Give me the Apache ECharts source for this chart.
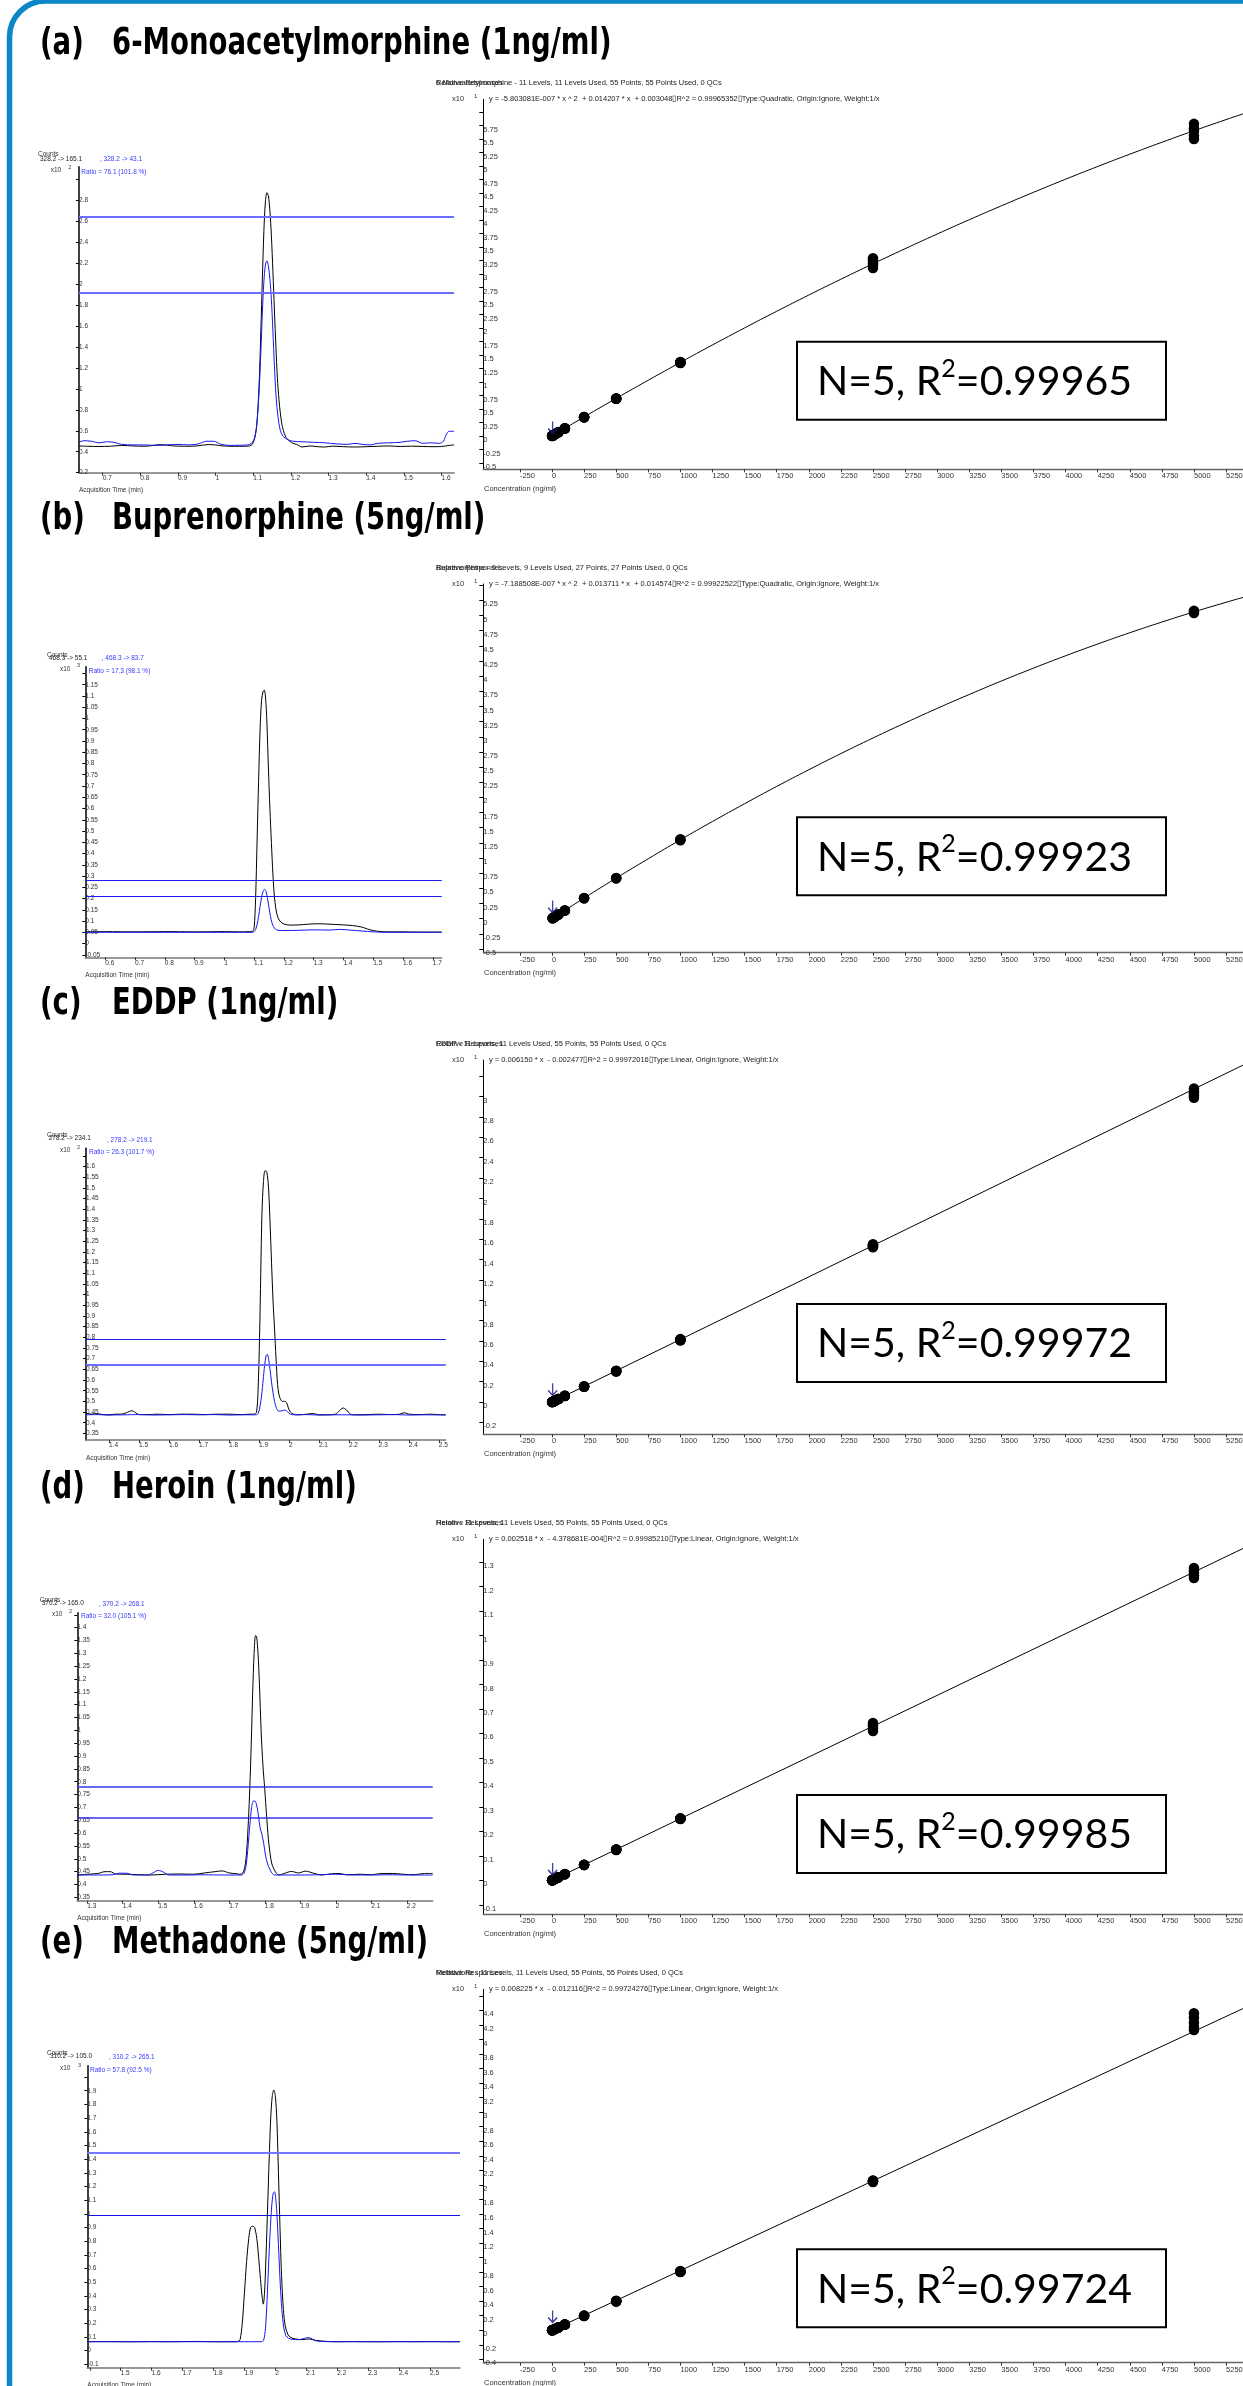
<!DOCTYPE html>
<html><head><meta charset="utf-8">
<script src="https://cdn.jsdelivr.net/npm/echarts@6/dist/echarts.min.js"></script>
<style>html,body{margin:0;padding:0;background:#fff}#c{width:1243px;height:2386px}</style>
</head><body><div id="c"></div>
<script>
// ================= DATA =================
// ---- Chromatogram (a) 6-Monoacetylmorphine
const chromA_black = [[0.637,0.455],[0.66,0.452],[0.69,0.45],[0.72,0.452],[0.75,0.46],[0.78,0.455],[0.81,0.452],[0.83,0.458],[0.85,0.468],[0.87,0.462],[0.89,0.455],[0.92,0.452],[0.95,0.455],[0.98,0.468],[1.00,0.465],[1.02,0.455],[1.05,0.452],[1.075,0.452],[1.09,0.455],
[1.097,0.47],[1.103,0.52],[1.108,0.62],[1.112,0.80],[1.116,1.10],[1.120,1.55],[1.124,2.05],[1.128,2.50],[1.132,2.78],[1.136,2.87],[1.140,2.84],[1.144,2.70],[1.148,2.46],[1.152,2.12],[1.156,1.75],[1.160,1.40],[1.164,1.10],[1.168,0.90],[1.172,0.76],[1.176,0.66],[1.180,0.60],[1.185,0.55],[1.190,0.52],[1.197,0.50],[1.205,0.48],[1.215,0.47],
[1.23,0.445],[1.25,0.455],[1.27,0.448],[1.29,0.445],[1.31,0.453],[1.34,0.448],[1.37,0.445],[1.40,0.448],[1.43,0.452],[1.46,0.455],[1.49,0.45],[1.52,0.453],[1.55,0.45],[1.58,0.448],[1.60,0.45],[1.62,0.46],[1.633,0.465]];
const chromA_blue = [[0.637,0.49],[0.65,0.505],[0.67,0.50],[0.69,0.485],[0.71,0.495],[0.73,0.49],[0.75,0.47],[0.78,0.465],[0.81,0.465],[0.84,0.46],[0.87,0.465],[0.90,0.47],[0.93,0.465],[0.955,0.475],[0.975,0.50],[0.995,0.50],[1.015,0.47],[1.04,0.46],[1.065,0.462],[1.085,0.465],
[1.095,0.48],[1.103,0.53],[1.108,0.62],[1.112,0.78],[1.116,1.02],[1.120,1.35],[1.124,1.72],[1.128,2.02],[1.132,2.18],[1.136,2.22],[1.140,2.17],[1.144,2.05],[1.148,1.85],[1.152,1.55],[1.156,1.22],[1.160,0.95],[1.164,0.78],[1.168,0.67],[1.172,0.60],[1.178,0.55],[1.185,0.53],[1.195,0.51],[1.205,0.50],
[1.23,0.495],[1.26,0.49],[1.29,0.485],[1.32,0.475],[1.35,0.47],[1.37,0.48],[1.39,0.47],[1.41,0.465],[1.43,0.48],[1.46,0.485],[1.49,0.49],[1.51,0.50],[1.53,0.505],[1.55,0.48],[1.57,0.485],[1.595,0.48],[1.605,0.50],[1.612,0.56],[1.62,0.595],[1.633,0.595]];
const chromA_limits = [2.644, 1.919];
const chromA_xTicks = [0.7,0.8,0.9,1.0,1.1,1.2,1.3,1.4,1.5,1.6];
const chromA_xLabels = [0.7,0.8,0.9,1.0,1.1,1.2,1.3,1.4,1.5,1.6];
const chromA_yTicks = [0.2,0.4,0.6,0.8,1.0,1.2,1.4,1.6,1.8,2.0,2.2,2.4,2.6,2.8,3.0];
const chromA_yLabels = [0.2,0.4,0.6,0.8,1.0,1.2,1.4,1.6,1.8,2.0,2.2,2.4,2.6,2.8];

// ---- Chromatogram (b) Buprenorphine
const chromB_black = [[0.533,0.052],[0.6,0.053],[0.7,0.052],[0.8,0.053],[0.9,0.052],[1.0,0.053],[1.05,0.052],[1.085,0.053],[1.095,0.055],
[1.100,0.07],[1.105,0.20],[1.110,0.46],[1.115,0.72],[1.120,0.95],[1.125,1.08],[1.130,1.12],[1.134,1.126],[1.138,1.10],[1.143,0.98],[1.148,0.78],[1.153,0.60],[1.158,0.45],[1.163,0.31],[1.168,0.21],[1.173,0.155],[1.180,0.115],[1.190,0.095],[1.200,0.087],
[1.22,0.082],[1.25,0.083],[1.28,0.086],[1.31,0.088],[1.34,0.087],[1.37,0.085],[1.40,0.083],[1.43,0.080],[1.46,0.074],[1.48,0.065],[1.50,0.058],[1.52,0.054],[1.55,0.052],[1.60,0.052],[1.65,0.051],[1.73,0.051]];
const chromB_blue = [[0.533,0.050],[0.7,0.050],[0.9,0.050],[1.05,0.050],[1.095,0.050],
[1.100,0.053],[1.105,0.062],[1.110,0.085],[1.115,0.120],[1.120,0.165],[1.125,0.205],[1.130,0.232],[1.135,0.241],[1.140,0.232],[1.145,0.200],[1.150,0.160],[1.155,0.120],[1.160,0.092],[1.165,0.075],[1.172,0.064],[1.180,0.059],
[1.20,0.058],[1.25,0.059],[1.30,0.061],[1.35,0.060],[1.39,0.063],[1.42,0.060],[1.46,0.056],[1.50,0.052],[1.55,0.050],[1.73,0.050]];
const chromB_limits = [0.279, 0.206];
const chromB_xTicks = [0.6,0.7,0.8,0.9,1.0,1.1,1.2,1.3,1.4,1.5,1.6,1.7];
const chromB_xLabels = [0.6,0.7,0.8,0.9,1.0,1.1,1.2,1.3,1.4,1.5,1.6,1.7];
const chromB_yTicks = [-0.05,0,0.05,0.1,0.15,0.2,0.25,0.3,0.35,0.4,0.45,0.5,0.55,0.6,0.65,0.7,0.75,0.8,0.85,0.9,0.95,1.0,1.05,1.1,1.15,1.2];
const chromB_yLabels = [-0.05,0,0.05,0.1,0.15,0.2,0.25,0.3,0.35,0.4,0.45,0.5,0.55,0.6,0.65,0.7,0.75,0.8,0.85,0.9,0.95,1.0,1.05,1.1,1.15];

// ---- Chromatogram (c) EDDP
const chromC_black = [[1.323,0.445],[1.34,0.44],[1.36,0.442],[1.38,0.438],[1.40,0.437],[1.42,0.44],[1.44,0.44],[1.455,0.445],[1.468,0.453],[1.477,0.456],[1.487,0.448],[1.50,0.438],[1.53,0.438],[1.56,0.44],[1.60,0.438],[1.64,0.44],[1.68,0.44],[1.72,0.438],[1.76,0.44],[1.80,0.44],[1.84,0.438],[1.87,0.44],[1.885,0.44],
[1.892,0.45],[1.897,0.55],[1.902,0.80],[1.906,1.10],[1.910,1.38],[1.915,1.53],[1.920,1.58],[1.924,1.58],[1.928,1.56],[1.932,1.50],[1.937,1.34],[1.942,1.15],[1.947,0.97],[1.952,0.84],[1.957,0.70],[1.962,0.58],[1.967,0.53],[1.972,0.51],[1.978,0.50],[1.985,0.50],[1.992,0.495],[1.998,0.47],[2.005,0.45],[2.015,0.44],
[2.03,0.437],[2.06,0.44],[2.08,0.443],[2.10,0.437],[2.13,0.437],[2.155,0.44],[2.168,0.455],[2.18,0.469],[2.192,0.46],[2.205,0.44],[2.22,0.437],[2.26,0.438],[2.30,0.44],[2.34,0.438],[2.37,0.44],[2.385,0.447],[2.40,0.44],[2.44,0.438],[2.47,0.44],[2.50,0.438],[2.523,0.437]];
const chromC_blue = [[1.323,0.437],[1.36,0.438],[1.40,0.436],[1.45,0.437],[1.50,0.438],[1.55,0.436],[1.60,0.437],[1.65,0.438],[1.70,0.437],[1.75,0.438],[1.80,0.436],[1.85,0.437],[1.89,0.437],
[1.898,0.445],[1.904,0.48],[1.909,0.53],[1.914,0.60],[1.919,0.67],[1.924,0.715],[1.928,0.72],[1.932,0.70],[1.937,0.65],[1.942,0.59],[1.947,0.54],[1.952,0.50],[1.958,0.47],[1.965,0.455],[1.975,0.455],[1.985,0.46],[1.995,0.452],[2.005,0.44],[2.02,0.437],
[2.06,0.438],[2.10,0.436],[2.15,0.437],[2.20,0.437],[2.25,0.436],[2.30,0.437],[2.35,0.438],[2.40,0.436],[2.45,0.437],[2.523,0.436]];
const chromC_limits = [0.792, 0.672];
const chromC_xTicks = [1.4,1.5,1.6,1.7,1.8,1.9,2.0,2.1,2.2,2.3,2.4,2.5];
const chromC_xLabels = [1.4,1.5,1.6,1.7,1.8,1.9,2.0,2.1,2.2,2.3,2.4,2.5];
const chromC_yTicks = [0.35,0.4,0.45,0.5,0.55,0.6,0.65,0.7,0.75,0.8,0.85,0.9,0.95,1.0,1.05,1.1,1.15,1.2,1.25,1.3,1.35,1.4,1.45,1.5,1.55,1.6,1.65];
const chromC_yLabels = [0.35,0.4,0.45,0.5,0.55,0.6,0.65,0.7,0.75,0.8,0.85,0.9,0.95,1.0,1.05,1.1,1.15,1.2,1.25,1.3,1.35,1.4,1.45,1.5,1.55,1.6];

// ---- Chromatogram (d) Heroin
const chromD_black = [[1.272,0.437],[1.30,0.44],[1.33,0.443],[1.35,0.45],[1.365,0.45],[1.38,0.441],[1.41,0.44],[1.45,0.438],[1.48,0.437],[1.52,0.44],[1.56,0.441],[1.60,0.44],[1.63,0.445],[1.66,0.45],[1.68,0.453],[1.70,0.445],[1.72,0.442],
[1.730,0.44],[1.738,0.445],[1.744,0.47],[1.749,0.53],[1.754,0.65],[1.758,0.78],[1.762,0.95],[1.766,1.15],[1.770,1.30],[1.774,1.369],[1.777,1.365],[1.781,1.30],[1.785,1.18],[1.790,0.99],[1.795,0.86],[1.800,0.77],[1.805,0.67],[1.810,0.58],[1.815,0.52],[1.820,0.48],[1.826,0.46],[1.832,0.445],[1.840,0.437],
[1.855,0.443],[1.875,0.451],[1.895,0.445],[1.915,0.452],[1.935,0.445],[1.96,0.437],[1.99,0.442],[2.01,0.443],[2.03,0.438],[2.07,0.44],[2.10,0.438],[2.13,0.443],[2.16,0.443],[2.19,0.44],[2.22,0.438],[2.25,0.443],[2.273,0.443]];
const chromD_blue = [[1.272,0.437],[1.32,0.437],[1.37,0.438],[1.39,0.444],[1.41,0.444],[1.43,0.437],[1.47,0.437],[1.485,0.445],[1.50,0.455],[1.515,0.448],[1.53,0.437],[1.58,0.437],[1.63,0.438],[1.68,0.437],[1.72,0.437],
[1.735,0.437],[1.742,0.445],[1.748,0.48],[1.753,0.55],[1.758,0.63],[1.763,0.70],[1.768,0.725],[1.772,0.725],[1.777,0.71],[1.782,0.67],[1.787,0.62],[1.792,0.595],[1.797,0.56],[1.802,0.515],[1.808,0.48],[1.814,0.46],[1.820,0.445],[1.828,0.437],
[1.85,0.437],[1.90,0.437],[1.95,0.438],[2.0,0.44],[2.05,0.437],[2.10,0.437],[2.15,0.438],[2.20,0.437],[2.273,0.437]];
const chromD_limits = [0.776, 0.663];
const chromD_xTicks = [1.3,1.4,1.5,1.6,1.7,1.8,1.9,2.0,2.1,2.2];
const chromD_xLabels = [1.3,1.4,1.5,1.6,1.7,1.8,1.9,2.0,2.1,2.2];
const chromD_yTicks = [0.35,0.4,0.45,0.5,0.55,0.6,0.65,0.7,0.75,0.8,0.85,0.9,0.95,1.0,1.05,1.1,1.15,1.2,1.25,1.3,1.35,1.4,1.45];
const chromD_yLabels = [0.35,0.4,0.45,0.5,0.55,0.6,0.65,0.7,0.75,0.8,0.85,0.9,0.95,1.0,1.05,1.1,1.15,1.2,1.25,1.3,1.35,1.4];

// ---- Chromatogram (e) Methadone
const chromE_black = [[1.392,0.065],[1.45,0.066],[1.50,0.065],[1.55,0.065],[1.60,0.066],[1.65,0.065],[1.70,0.066],[1.75,0.067],[1.80,0.065],[1.84,0.065],
[1.870,0.065],[1.880,0.068],[1.886,0.08],[1.893,0.20],[1.900,0.42],[1.907,0.65],[1.914,0.82],[1.920,0.90],[1.927,0.91],[1.933,0.90],[1.940,0.82],[1.946,0.68],[1.952,0.52],[1.957,0.40],[1.961,0.34],[1.965,0.42],[1.970,0.70],[1.975,1.05],[1.980,1.40],[1.985,1.70],[1.990,1.86],[1.995,1.905],[2.000,1.86],[2.005,1.68],[2.010,1.30],[2.015,0.90],[2.020,0.55],[2.026,0.30],[2.032,0.18],[2.040,0.12],[2.050,0.095],[2.065,0.085],[2.085,0.08],[2.11,0.085],[2.13,0.075],[2.16,0.068],[2.20,0.065],
[2.25,0.066],[2.30,0.065],[2.35,0.065],[2.40,0.066],[2.45,0.065],[2.50,0.066],[2.55,0.065],[2.597,0.065]];
const chromE_blue = [[1.392,0.065],[1.50,0.065],[1.60,0.065],[1.70,0.065],[1.80,0.065],[1.90,0.065],[1.955,0.065],
[1.962,0.075],[1.968,0.16],[1.973,0.36],[1.978,0.62],[1.983,0.86],[1.988,1.05],[1.993,1.15],[1.997,1.162],[2.001,1.12],[2.006,0.96],[2.011,0.72],[2.016,0.48],[2.021,0.30],[2.027,0.17],[2.034,0.11],[2.043,0.09],[2.055,0.082],[2.075,0.08],[2.095,0.09],[2.105,0.095],[2.115,0.09],[2.13,0.072],[2.16,0.066],[2.20,0.065],
[2.25,0.065],[2.35,0.065],[2.45,0.065],[2.597,0.065]];
const chromE_limits = [1.447, 0.989];
const chromE_xTicks = [1.4,1.5,1.6,1.7,1.8,1.9,2.0,2.1,2.2,2.3,2.4,2.5];
const chromE_xLabels = [1.5,1.6,1.7,1.8,1.9,2.0,2.1,2.2,2.3,2.4,2.5];
const chromE_yTicks = [-0.1,0,0.1,0.2,0.3,0.4,0.5,0.6,0.7,0.8,0.9,1.0,1.1,1.2,1.3,1.4,1.5,1.6,1.7,1.8,1.9,2.0];
const chromE_yLabels = [-0.1,0,0.1,0.2,0.3,0.4,0.5,0.6,0.7,0.8,0.9,1.0,1.1,1.2,1.3,1.4,1.5,1.6,1.7,1.8,1.9];

// ---- Calibration curves (response x10^1 vs concentration ng/ml)
const calXTicks = [-250,0,250,500,750,1000,1250,1500,1750,2000,2250,2500,2750,3000,3250,3500,3750,4000,4250,4500,4750,5000,5250];
const calLevels11 = [1,5,10,25,50,100,250,500,1000,2500,5000];
const calLevels9 = [5,10,25,50,100,250,500,1000,5000];

const calA_resp = [[0.001,0.002,0.002,0.001,0.002],[0.007,0.008,0.007,0.008,0.007],[0.014,0.015,0.014,0.015,0.014],[0.036,0.035,0.036,0.037,0.035],[0.071,0.070,0.072,0.071,0.070],[0.140,0.142,0.138,0.141,0.140],[0.345,0.350,0.348,0.344,0.350],[0.690,0.695,0.688,0.692,0.696],[1.350,1.360,1.370,1.355,1.365],[3.11,3.16,3.20,3.25,3.29],[5.50,5.56,5.65,5.70,5.78]];
const calA_curve = [[1,0.0015],[250,0.352],[500,0.696],[750,1.033],[1000,1.363],[1250,1.686],[1500,2.001],[1750,2.309],[2000,2.610],[2250,2.903],[2500,3.189],[2750,3.468],[3000,3.740],[3250,4.005],[3500,4.262],[3750,4.512],[4000,4.755],[4250,4.990],[4500,5.218],[4750,5.439],[5000,5.653],[5250,5.859],[5400,5.98]];
const calA_yTicks = [-0.5,-0.25,0,0.25,0.5,0.75,1,1.25,1.5,1.75,2,2.25,2.5,2.75,3,3.25,3.5,3.75,4,4.25,4.5,4.75,5,5.25,5.5,5.75,6];
const calA_yLabels = [-0.5,-0.25,0,0.25,0.5,0.75,1,1.25,1.5,1.75,2,2.25,2.5,2.75,3,3.25,3.5,3.75,4,4.25,4.5,4.75,5,5.25,5.5,5.75];
const calA_arrow = [5, 0.157];

const calB_resp = [[0.008,0.008,0.009],[0.015,0.016,0.015],[0.035,0.036,0.035],[0.070,0.069,0.071],[0.135,0.137,0.136],[0.335,0.340,0.338],[0.665,0.670,0.668],[1.295,1.300,1.310],[5.04,5.06,5.08]];
const calB_curve = [[1,0.0028],[250,0.340],[500,0.669],[750,0.989],[1000,1.301],[1250,1.603],[1500,1.896],[1750,2.181],[2000,2.456],[2250,2.723],[2500,2.980],[2750,3.228],[3000,3.468],[3250,3.698],[3500,3.920],[3750,4.132],[4000,4.336],[4250,4.530],[4500,4.716],[4750,4.892],[5000,5.060],[5250,5.218],[5400,5.31]];
const calB_yTicks = [-0.5,-0.25,0,0.25,0.5,0.75,1,1.25,1.5,1.75,2,2.25,2.5,2.75,3,3.25,3.5,3.75,4,4.25,4.5,4.75,5,5.25,5.5];
const calB_yLabels = [-0.5,-0.25,0,0.25,0.5,0.75,1,1.25,1.5,1.75,2,2.25,2.5,2.75,3,3.25,3.5,3.75,4,4.25,4.5,4.75,5,5.25];
const calB_arrow = [5, 0.20];

const calC_resp = [[0.0005,0.0005,0.0006,0.0005,0.0004],[0.003,0.003,0.0032,0.003,0.0029],[0.006,0.0062,0.006,0.0061,0.006],[0.015,0.0152,0.0151,0.015,0.0153],[0.030,0.031,0.030,0.0305,0.030],[0.060,0.061,0.062,0.061,0.060],[0.150,0.152,0.154,0.153,0.151],[0.300,0.305,0.307,0.303,0.306],[0.605,0.610,0.612,0.615,0.618],[1.52,1.53,1.54,1.545,1.55],[2.99,3.01,3.03,3.05,3.08]];
const calC_curve = [[1,0.0004],[2500,1.537],[5400,3.321]];
const calC_yTicks = [-0.2,0,0.2,0.4,0.6,0.8,1,1.2,1.4,1.6,1.8,2,2.2,2.4,2.6,2.8,3,3.2];
const calC_yLabels = [-0.2,0,0.2,0.4,0.6,0.8,1,1.2,1.4,1.6,1.8,2,2.2,2.4,2.6,2.8,3];
const calC_arrow = [5, 0.125];

const calD_resp = [[0.0002,0.0002,0.0003,0.0002,0.0002],[0.0012,0.0013,0.0012,0.0013,0.0012],[0.0025,0.0024,0.0025,0.0026,0.0025],[0.0063,0.0062,0.0064,0.0063,0.0062],[0.0125,0.0126,0.0124,0.0125,0.0127],[0.025,0.0252,0.0249,0.0251,0.025],[0.062,0.063,0.0625,0.063,0.0628],[0.125,0.126,0.1255,0.124,0.126],[0.250,0.251,0.252,0.252,0.253],[0.61,0.62,0.63,0.635,0.643],[1.235,1.245,1.255,1.265,1.276]];
const calD_curve = [[1,0.0002],[2500,0.6295],[5400,1.36]];
const calD_yTicks = [-0.1,0,0.1,0.2,0.3,0.4,0.5,0.6,0.7,0.8,0.9,1,1.1,1.2,1.3];
const calD_yLabels = [-0.1,0,0.1,0.2,0.3,0.4,0.5,0.6,0.7,0.8,0.9,1,1.1,1.2,1.3];
const calD_arrow = [5, 0.046];

const calE_resp = [[0.0,0.0005,0.0,0.0008,0.0003],[0.003,0.0035,0.003,0.004,0.003],[0.007,0.0075,0.007,0.008,0.007],[0.019,0.020,0.019,0.018,0.020],[0.040,0.039,0.041,0.040,0.039],[0.078,0.080,0.079,0.081,0.080],[0.195,0.200,0.198,0.202,0.199],[0.395,0.400,0.398,0.402,0.405],[0.800,0.805,0.810,0.815,0.808],[2.040,2.050,2.050,2.060,2.055],[4.13,4.17,4.23,4.30,4.36]];
const calE_curve = [[1,-0.0004],[2500,2.055],[5400,4.440]];
const calE_yTicks = [-0.4,-0.2,0,0.2,0.4,0.6,0.8,1,1.2,1.4,1.6,1.8,2,2.2,2.4,2.6,2.8,3,3.2,3.4,3.6,3.8,4,4.2,4.4,4.6];
const calE_yLabels = [-0.4,-0.2,0,0.2,0.4,0.6,0.8,1,1.2,1.4,1.6,1.8,2,2.2,2.4,2.6,2.8,3,3.2,3.4,3.6,3.8,4,4.2,4.4];
const calE_arrow = [5, 0.19];

// ---- Texts
const panelTags = ['(a)','(b)','(c)','(d)','(e)'];
const panelNames = ['6-Monoacetylmorphine (1ng/ml)','Buprenorphine (5ng/ml)','EDDP (1ng/ml)','Heroin (1ng/ml)','Methadone (5ng/ml)'];
const mzQuant = ['328.2 -> 165.1','468.3 -> 55.1','278.2 -> 234.1','370.2 -> 165.0','310.2 -> 105.0'];
const mzQual = [', 328.2 -> 43.1',', 468.3 -> 83.7',', 278.2 -> 219.1',', 370.2 -> 268.1',', 310.2 -> 265.1'];
const ratioTexts = ['Ratio = 76.1 (101.8 %)','Ratio = 17.3 (98.1 %)','Ratio = 26.3 (101.7 %)','Ratio = 32.0 (105.1 %)','Ratio = 57.8 (92.5 %)'];
const countExp = ['2','3','2','2','3'];
const calHeads = ['6-Monoacetylmorphine - 11 Levels, 11 Levels Used, 55 Points, 55 Points Used, 0 QCs',
 'Buprenorphine - 9 Levels, 9 Levels Used, 27 Points, 27 Points Used, 0 QCs',
 'EDDP - 11 Levels, 11 Levels Used, 55 Points, 55 Points Used, 0 QCs',
 'Heroin - 11 Levels, 11 Levels Used, 55 Points, 55 Points Used, 0 QCs',
 'Methadone - 11 Levels, 11 Levels Used, 55 Points, 55 Points Used, 0 QCs'];
const calEq = ['y = -5.803081E-007 * x ^ 2  + 0.014207 * x  + 0.003048\u25AFR^2 = 0.99965352\u25AFType:Quadratic, Origin:Ignore, Weight:1/x',
 'y = -7.188508E-007 * x ^ 2  + 0.013711 * x  + 0.014574\u25AFR^2 = 0.99922522\u25AFType:Quadratic, Origin:Ignore, Weight:1/x',
 'y = 0.006150 * x  - 0.002477\u25AFR^2 = 0.99972016\u25AFType:Linear, Origin:Ignore, Weight:1/x',
 'y = 0.002518 * x  - 4.378681E-004\u25AFR^2 = 0.99985210\u25AFType:Linear, Origin:Ignore, Weight:1/x',
 'y = 0.008225 * x  - 0.012116\u25AFR^2 = 0.99724276\u25AFType:Linear, Origin:Ignore, Weight:1/x'];
const r2Values = ['0.99965','0.99923','0.99972','0.99985','0.99724'];

// ================= LAYOUT =================
const SANS = '"Liberation Sans", Arial, sans-serif';
const LAB = '#333';
const BLUE = '#1515f5';
const fmt = v => String(parseFloat((+v).toFixed(3)));

const chromPanels = [
 {black:chromA_black, blue:chromA_blue, limits:chromA_limits, lim:[['#6d6dff',2],['#6d6dff',2]], xT:chromA_xTicks, xL:chromA_xLabels, yT:chromA_yTicks, yL:chromA_yLabels,
  g:{left:79, top:166.7, width:375, height:306}, x:[0.637,1.633], y:[0.2,3.118],
  hd:{counts:[38,154.3], mz:[40,159], mz2:[100,159.3], x10:[50.7,170.7], exp:[68.3,167.5], ratio:[81.3,172.7]}},
 {black:chromB_black, blue:chromB_blue, limits:chromB_limits, lim:[['#1c1ce8',1.2],['#1c1ce8',1.2]], xT:chromB_xTicks, xL:chromB_xLabels, yT:chromB_yTicks, yL:chromB_yLabels,
  g:{left:85.3, top:666.7, width:356.4, height:290.6}, x:[0.533,1.73], y:[-0.061,1.23],
  hd:{counts:[47,655.5], mz:[49,658.7], mz2:[101.7,658.7], x10:[60,669.3], exp:[77,665.5], ratio:[88.7,671.7]}},
 {black:chromC_black, blue:chromC_blue, limits:chromC_limits, lim:[['#1c1ce8',1.2],['#6d6dff',2]], xT:chromC_xTicks, xL:chromC_xLabels, yT:chromC_yTicks, yL:chromC_yLabels,
  g:{left:86, top:1148.3, width:359.7, height:291.7}, x:[1.323,2.523], y:[0.319,1.686],
  hd:{counts:[47,1135.5], mz:[48.7,1138.3], mz2:[107,1140.7], x10:[60,1150.7], exp:[77,1147.5], ratio:[89,1152.7]}},
 {black:chromD_black, blue:chromD_blue, limits:chromD_limits, lim:[['#3434f0',1.5],['#3434f0',1.5]], xT:chromD_xTicks, xL:chromD_xLabels, yT:chromD_yTicks, yL:chromD_yLabels,
  g:{left:77.3, top:1612.7, width:355.4, height:288}, x:[1.272,2.273], y:[0.337,1.458],
  hd:{counts:[39.7,1600], mz:[41.7,1603.3], mz2:[99,1604.7], x10:[52,1614.7], exp:[69,1611.8], ratio:[81,1616.7]}},
 {black:chromE_black, blue:chromE_blue, limits:chromE_limits, lim:[['#7676ff',2.2],['#1414e0',1.2]], xT:chromE_xTicks, xL:chromE_xLabels, yT:chromE_yTicks, yL:chromE_yLabels,
  g:{left:87.3, top:2065.7, width:372.7, height:302}, x:[1.392,2.597], y:[-0.125,2.083],
  hd:{counts:[47,2053], mz:[50,2056.7], mz2:[109,2057.7], x10:[60,2068.7], exp:[78,2065.5], ratio:[90,2070.7]}}
];

const calPanels = [
 {levels:calLevels11, resp:calA_resp, curve:calA_curve, smooth:true, yT:calA_yTicks, yL:calA_yLabels, arrow:calA_arrow, g:{left:483.3, top:99.3, height:370}, y:[-0.617,6.235], box:341.7},
 {levels:calLevels9, resp:calB_resp, curve:calB_curve, smooth:true, yT:calB_yTicks, yL:calB_yLabels, arrow:calB_arrow, g:{left:483.3, top:584, height:368.7}, y:[-0.561,5.52], box:817.3},
 {levels:calLevels11, resp:calC_resp, curve:calC_curve, smooth:false, yT:calC_yTicks, yL:calC_yLabels, arrow:calC_arrow, g:{left:483.3, top:1060, height:374.3}, y:[-0.317,3.36], box:1304},
 {levels:calLevels11, resp:calD_resp, curve:calD_curve, smooth:false, yT:calD_yTicks, yL:calD_yLabels, arrow:calD_arrow, g:{left:483.3, top:1539.3, height:375}, y:[-0.139,1.393], box:1795},
 {levels:calLevels11, resp:calE_resp, curve:calE_curve, smooth:false, yT:calE_yTicks, yL:calE_yLabels, arrow:calE_arrow, g:{left:483.3, top:1989.3, height:373.4}, y:[-0.446,4.69], box:2249.3}
];
const calX = [-535, 5382];
const titleY = [44, 519.5, 1004.5, 1488.5, 1943.5];

const option = {animation:false, backgroundColor:'#fff', grid:[], xAxis:[], yAxis:[], series:[], graphic:[]};
const G = option.graphic;
function txt(s, x, y, size, color, extra){
  G.push({type:'text', x:x, y:y, silent:true, z:50,
    style:Object.assign({text:s, fill:color||'#222', fontSize:size, fontFamily:SANS, align:'left', verticalAlign:'middle'}, extra||{})});
}

// Chromatograms
chromPanels.forEach((p, i) => {
  option.grid.push(Object.assign({containLabel:false, outerBoundsMode:'none', show:false}, p.g));
  option.xAxis.push({type:'value', gridIndex:i, min:p.x[0], max:p.x[1],
    axisLine:{show:true, onZero:false, lineStyle:{color:'#777', width:1.5}},
    axisTick:{show:true, customValues:p.xT, length:3, lineStyle:{color:'#333', width:1}},
    axisLabel:{show:true, customValues:p.xL, align:'left', margin:2, fontSize:6.5, fontFamily:SANS, color:LAB, formatter:fmt},
    splitLine:{show:false}});
  option.yAxis.push({type:'value', gridIndex:i, min:p.y[0], max:p.y[1],
    axisLine:{show:true, onZero:false, lineStyle:{color:'#000', width:1.5}},
    axisTick:{show:true, customValues:p.yT, length:3, inside:false, lineStyle:{color:'#000', width:1}},
    axisLabel:{show:true, inside:true, customValues:p.yL, margin:0, fontSize:6.5, fontFamily:SANS, color:LAB, verticalAlign:'middle', formatter:fmt},
    splitLine:{show:false}});
  option.series.push({type:'line', xAxisIndex:i, yAxisIndex:i, data:p.black, symbol:'none', smooth:0.3, z:3,
    lineStyle:{color:'#000', width:1}});
  option.series.push({type:'line', xAxisIndex:i, yAxisIndex:i, data:p.blue, symbol:'none', smooth:0.3, z:4,
    lineStyle:{color:BLUE, width:1},
    markLine:{silent:true, symbol:['none','none'], label:{show:false}, animation:false,
      data:p.limits.map((v,k)=>({yAxis:v, lineStyle:{color:p.lim[k][0], width:p.lim[k][1], type:'solid'}}))}});
  const h = p.hd;
  txt('Counts', h.counts[0], h.counts[1], 6.5, '#333');
  txt(mzQuant[i], h.mz[0], h.mz[1], 6.5, '#222');
  txt(mzQual[i], h.mz2[0], h.mz2[1], 6.5, '#3a3aff');
  txt('x10', h.x10[0], h.x10[1], 6.5, '#333');
  txt(countExp[i], h.exp[0], h.exp[1], 5.5, '#333');
  txt(ratioTexts[i], h.ratio[0], h.ratio[1], 6.5, '#3a3aff');
  txt('Acquisition Time (min)', p.g.left, p.g.top + p.g.height + 18, 6.5, '#333');
});

// Calibrations
calPanels.forEach((p, j) => {
  const gi = 5 + j;
  option.grid.push({containLabel:false, outerBoundsMode:'none', show:false, left:p.g.left, top:p.g.top, right:0, height:p.g.height});
  option.xAxis.push({type:'value', gridIndex:gi, min:calX[0], max:calX[1],
    axisLine:{show:true, onZero:false, lineStyle:{color:'#666', width:1.3}},
    axisTick:{show:true, customValues:calXTicks, length:3, lineStyle:{color:'#333', width:1}},
    axisLabel:{show:true, customValues:calXTicks, align:'left', margin:3, fontSize:7.5, fontFamily:SANS, color:LAB, formatter:fmt},
    splitLine:{show:false}});
  option.yAxis.push({type:'value', gridIndex:gi, min:p.y[0], max:p.y[1],
    axisLine:{show:true, onZero:false, lineStyle:{color:'#000', width:1}},
    axisTick:{show:true, customValues:p.yT, length:4, inside:false, lineStyle:{color:'#000', width:1}},
    axisLabel:{show:true, inside:true, customValues:p.yL, margin:0, fontSize:7.5, fontFamily:SANS, color:LAB, verticalAlign:'top', formatter:fmt},
    splitLine:{show:false}});
  option.series.push({type:'line', xAxisIndex:gi, yAxisIndex:gi, data:p.curve, symbol:'none', smooth:p.smooth, z:3,
    lineStyle:{color:'#000', width:1}});
  const pts = [];
  p.levels.forEach((lv, k) => p.resp[k].forEach(r => pts.push([lv, r])));
  option.series.push({type:'scatter', xAxisIndex:gi, yAxisIndex:gi, data:pts, symbol:'circle', symbolSize:10.5, z:4,
    itemStyle:{color:'#000', opacity:1}});
  option.series.push({type:'scatter', xAxisIndex:gi, yAxisIndex:gi, data:[p.arrow], symbol:'path://M5,0L5,12M0,7L5,12L10,7', symbolSize:[9,12], z:5,
    itemStyle:{color:'rgba(0,0,0,0)', borderColor:'#141480', borderWidth:1.5}});
  const top = p.g.top;
  txt(calHeads[j], 436, top - 16, 7.5, '#222');
  txt('Relative Responses', 436, top - 16, 7.5, '#222');
  txt('x10', 452, top, 7.5, '#333');
  txt('1', 474, top - 2.5, 6, '#333');
  txt(calEq[j], 489, top, 7.5, '#222');
  txt('Concentration (ng/ml)', 484, top + p.g.height + 20, 7.5, '#333');
  G.push({type:'rect', silent:true, z:40, shape:{x:797, y:p.box, width:369, height:78}, style:{fill:'#fff', stroke:'#000', lineWidth:2}});
});

// measure helper for text layout
const mctx = document.createElement('canvas').getContext('2d');
function tw(s, font){ mctx.font = font; return mctx.measureText(s).width; }
const BOXF = 'Lato';
calPanels.forEach((p, j) => {
  const a = 'N=5, R', b = '2', c = '=' + r2Values[j];
  const w1 = tw(a, '41px ' + BOXF), w2 = tw(b, '25px ' + BOXF), w3 = tw(c, '41px ' + BOXF);
  const x0 = 974.5 - (w1 + w2 + w3) / 2;
  const cy = p.box + 40;
  G.push({type:'text', x:x0, y:cy, z:60, silent:true, style:{text:a, fill:'#000', fontSize:41, fontFamily:BOXF, align:'left', verticalAlign:'middle'}});
  G.push({type:'text', x:x0 + w1, y:cy - 13, z:60, silent:true, style:{text:b, fill:'#000', fontSize:25, fontFamily:BOXF, align:'left', verticalAlign:'middle'}});
  G.push({type:'text', x:x0 + w1 + w2, y:cy, z:60, silent:true, style:{text:c, fill:'#000', fontSize:41, fontFamily:BOXF, align:'left', verticalAlign:'middle'}});
});

// Titles (condensed bold, horizontally compressed to match the reference width)
const TF = '"DejaVu Sans Condensed", "Liberation Sans Narrow", sans-serif';
const tScale = 316 / tw('Methadone (5ng/ml)', 'bold 38px ' + TF);
panelTags.forEach((t, i) => {
  G.push({type:'text', x:40, y:titleY[i], z:60, silent:true, scaleX:tScale, style:{text:t, fill:'#000', fontSize:38, fontWeight:'bold', fontFamily:TF, align:'left', verticalAlign:'middle'}});
  G.push({type:'text', x:112, y:titleY[i], z:60, silent:true, scaleX:tScale, style:{text:panelNames[i], fill:'#000', fontSize:38, fontWeight:'bold', fontFamily:TF, align:'left', verticalAlign:'middle'}});
});

// Frame
G.push({type:'rect', silent:true, z:100, shape:{x:9.5, y:1, width:1500, height:2600, r:36}, style:{fill:'none', stroke:'#0b87c7', lineWidth:5.5}});

const chart = echarts.init(document.getElementById('c'), null, {renderer:'canvas', width:1243, height:2386});
chart.setOption(option);
</script></body></html>
